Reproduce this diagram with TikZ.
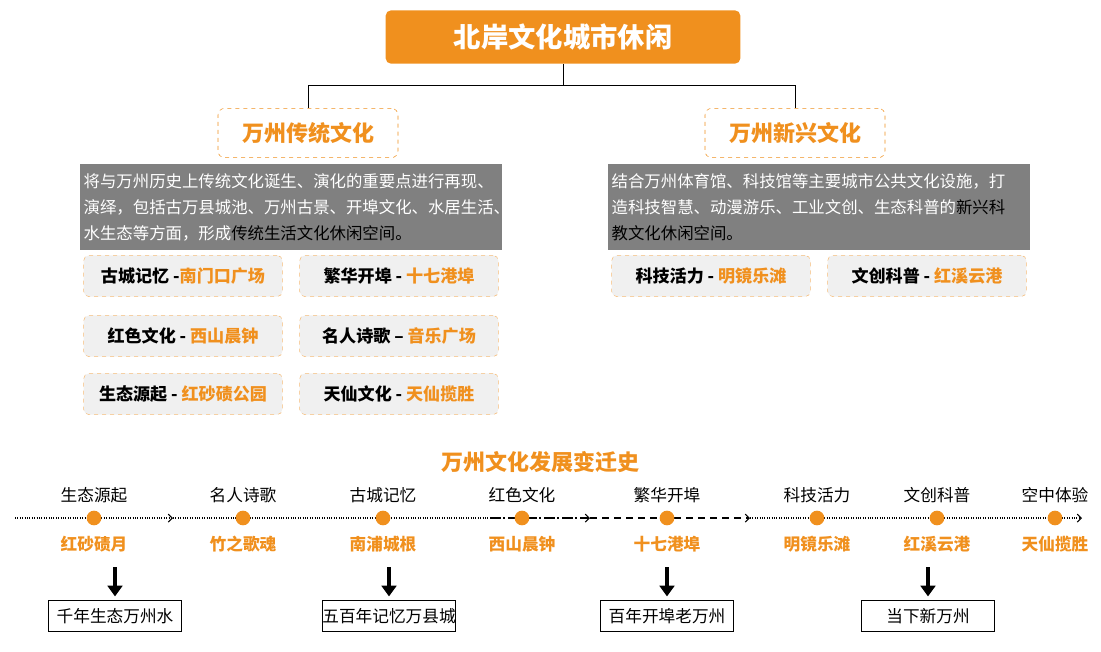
\documentclass[tikz,border=0pt]{standalone}
\usepackage{fontspec}
\setmainfont{Noto Sans CJK SC}
\usetikzlibrary{positioning, arrows.meta}
\definecolor{wzorange}{HTML}{F0901E}
\definecolor{wzgray}{HTML}{808080}
\definecolor{wzlight}{HTML}{F0F0F0}

\begin{document}
\begin{tikzpicture}[x=0.75pt, y=-0.75pt,
      every node/.style={inner sep=0pt},
      titlebox/.style={fill=wzorange, rounded corners=4pt, minimum width=266pt, minimum height=40pt,
        text=white, font=\bfseries\fontsize{20.5}{22}\selectfont},
      groupbox/.style={draw=wzorange, dashed, rounded corners=5pt, fill=white, minimum width=135pt,
        minimum height=37pt, text=wzorange, font=\bfseries\fontsize{16.5}{18}\selectfont},
      textblock/.style={fill=wzgray, text=white, align=left, text width=311pt, inner sep=2.5pt,
        minimum height=64pt, font=\fontsize{12.3}{19.5}\selectfont},
      itembox/.style={draw=wzorange!60, dashed, rounded corners=4pt, fill=wzlight, minimum width=149pt,
        minimum height=31pt, font=\bfseries\fontsize{12.8}{14}\selectfont},
      era/.style={font=\fontsize{12.5}{14}\selectfont},
      spot/.style={text=wzorange, font=\bfseries\fontsize{12.5}{14}\selectfont},
      dot/.style={circle, fill=wzorange, minimum size=11pt},
      stage/.style={draw, minimum width=100pt, minimum height=23pt, font=\fontsize{12.5}{14}\selectfont},
      hi/.style={text=wzorange}
    ]
    \useasboundingbox (0,0) rectangle (1101,651);

    % top of the tree
    \node[titlebox] (root) at (563,37) {北岸文化城市休闲};
    \node[groupbox] (trad) at (308,133) {万州传统文化};
    \node[groupbox] (modern) at (795,133) {万州新兴文化};
    \coordinate (fork) at (root.south |- 0,85);
    \draw (root.south) -- (fork) -| (trad.north);
    \draw (fork) -| (modern.north);

    \node[textblock] (tradtext) at (291,207) {将与万州历史上传统文化诞生、演化的重要点进行再现、\\演绎，包括古万县城池、万州古景、开埠文化、水居生活、\\水生态等方面，形成{\color{black}传统生活文化休闲空间。}};
    \node[textblock] (modtext) at (819,207) {结合万州体育馆、科技馆等主要城市公共文化设施，打\\造科技智慧、动漫游乐、工业文创、生态科普的{\color{black}新兴科}\\{\color{black}教文化休闲空间。}};

    % cultural spots
    \node[itembox] (gucheng) at (183,276) {古城记忆 -{\color{wzorange}南门口广场}};
    \node[itembox] (fanhua) at (399,276) {繁华开埠 - {\color{wzorange}十七港埠}};
    \node[itembox] (hongse) at (183,336) {红色文化 - {\color{wzorange}西山晨钟}};
    \node[itembox] (mingren) at (399,336) {名人诗歌 – {\color{wzorange}音乐广场}};
    \node[itembox] (shengtai) at (183,394) {生态源起 - {\color{wzorange}红砂碛公园}};
    \node[itembox] (tianxian) at (399,394) {天仙文化 - {\color{wzorange}天仙揽胜}};
    \node[itembox] (keji) at (711,276) {科技活力 - {\color{wzorange}明镜乐滩}};
    \node[itembox] (wenchuang) at (927,276) {文创科普 - {\color{wzorange}红溪云港}};

    % timeline
    \node[text=wzorange, font=\bfseries\fontsize{16.5}{18}\selectfont] (history) at (540,462) {万州文化发展变迁史};
    \foreach \x/\n/\e/\s in {94/p1/生态源起/红砂碛月, 243/p2/名人诗歌/竹之歌魂, 383/p3/古城记忆/南浦城根,
        522/p4/红色文化/西山晨钟, 667/p5/繁华开埠/十七港埠, 817/p6/科技活力/明镜乐滩,
        937/p7/文创科普/红溪云港, 1055/p8/空中体验/天仙揽胜} {
      \node[era] (\n-era) at (\x,495) {\e};
      \node[spot] (\n-spot) at (\x,544) {\s};
      \coordinate (\n) at (\x,518);
    }
    \coordinate (start) at (15,518);
    \coordinate (m1) at (173,518);
    \coordinate (m2) at (490,518);
    \coordinate (m3) at (590,518);
    \coordinate (m4) at (750,518);
    \coordinate (stop) at (1082,518);
    \draw[densely dotted, thick, -{Straight Barb[length=3pt]}] (start) -- (m1);
    \draw[densely dotted, thick] (m1) -- (m2);
    \draw[dash pattern=on 8pt off 2pt on 1.5pt off 2pt, thick, -{Straight Barb[length=3pt]}] (m2) -- (m3);
    \draw[dash pattern=on 5pt off 4pt, thick, -{Straight Barb[length=3pt]}] (m3) -- (m4);
    \draw[densely dotted, thick, -{Straight Barb[length=3pt]}] (m4) -- (stop);
    \foreach \n in {p1,p2,p3,p4,p5,p6,p7,p8} \node[dot] at (\n) {};

    % stages
    \node[stage] (s1) at (115,616) {千年生态万州水};
    \node[stage] (s2) at (389,616) {五百年记忆万县城};
    \node[stage] (s3) at (667,616) {百年开埠老万州};
    \node[stage] (s4) at (928,616) {当下新万州};
    \foreach \s in {s1,s2,s3,s4}
      \draw[line width=2.6pt, -{Triangle[length=8pt,width=11pt]}] ([yshift=25pt]\s.north) -- ([yshift=3pt]\s.north);
  \end{tikzpicture}
\end{document}
